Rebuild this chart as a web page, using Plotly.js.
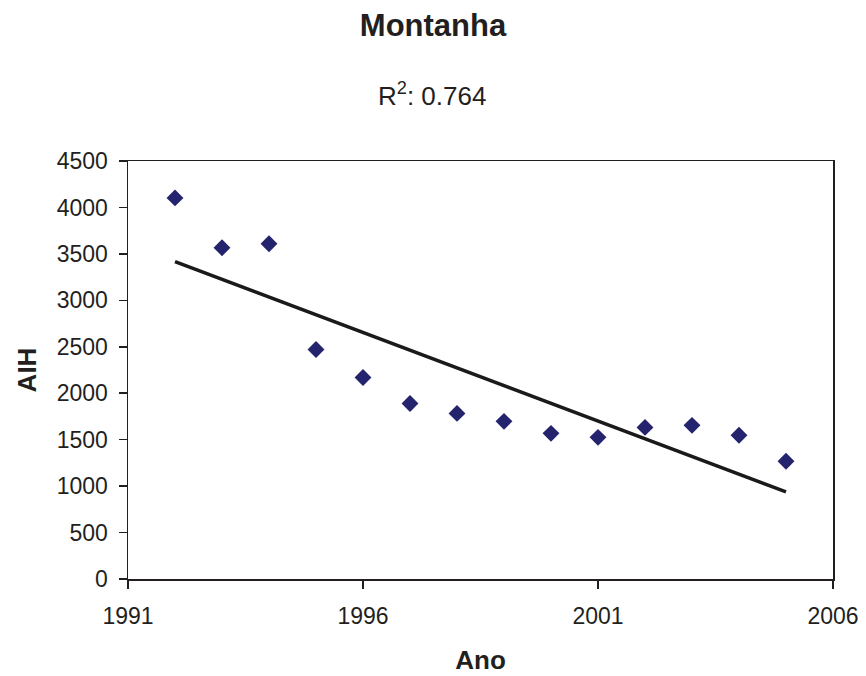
<!DOCTYPE html>
<html>
<head>
<meta charset="utf-8">
<script src="https://cdn.plot.ly/plotly-3.0.1.min.js"></script>
<style>html,body{margin:0;padding:0;background:#fff;}#chart{width:866px;height:676px;}</style>
</head>
<body>
<div id="chart"></div>
<script>
const years = [1992, 1993, 1994, 1995, 1996, 1997, 1998, 1999, 2000, 2001, 2002, 2003, 2004, 2005];
const aih = [4103, 3566, 3609, 2470, 2169, 1890, 1783, 1697, 1568, 1525, 1632, 1654, 1547, 1267];
const titleText = "Montanha";
const r2Text = "R<sup>2</sup>: 0.764";
const xTicks = [1991, 1996, 2001, 2006];
const yTicks = [0, 500, 1000, 1500, 2000, 2500, 3000, 3500, 4000, 4500];

// least-squares linear trend
const n = years.length;
const mx = years.reduce((a, b) => a + b, 0) / n;
const my = aih.reduce((a, b) => a + b, 0) / n;
let sxy = 0, sxx = 0;
for (let i = 0; i < n; i++) { sxy += (years[i] - mx) * (aih[i] - my); sxx += (years[i] - mx) ** 2; }
const slope = sxy / sxx;
const trendX = [years[0], years[n - 1]];
const trendY = trendX.map(x => my + slope * (x - mx));

const txt = '#231f20';
const font = 'Liberation Sans, Arial, sans-serif';

const data = [
  { x: trendX, y: trendY, mode: 'lines', type: 'scatter', line: { color: '#1a1a1a', width: 3.5 }, hoverinfo: 'skip' },
  { x: years, y: aih, mode: 'markers', type: 'scatter', marker: { symbol: 'diamond', size: 13, color: '#23236e' } }
];

const layout = {
  width: 866, height: 676,
  margin: { l: 128, r: 33, t: 161, b: 97 },
  paper_bgcolor: '#fff', plot_bgcolor: '#fff',
  showlegend: false,
  font: { family: font, color: txt, size: 23 },
  title: { text: '<b>' + titleText + '</b>', x: 0.5, xref: 'container', y: 1 - 25 / 676, yref: 'container', yanchor: 'middle', font: { size: 31, color: txt, family: font } },
  annotations: [{ text: r2Text, xref: 'paper', yref: 'paper', x: (432 - 128) / 705, y: 1, yshift: 67, xanchor: 'center', yanchor: 'middle', showarrow: false, font: { size: 26, color: txt, family: font } }],
  xaxis: {
    range: [1991, 2006], tickvals: xTicks, ticktext: xTicks.map(String),
    showline: true, linecolor: '#231f20', linewidth: 1.5, mirror: true,
    ticks: 'outside', ticklen: 8, tickcolor: '#231f20', tickwidth: 1.5,
    showgrid: false, zeroline: false, ticklabelstandoff: 8,
    tickfont: { size: 23 },
    title: { text: '<b>Ano</b>', font: { size: 26, color: txt }, standoff: 22 }
  },
  yaxis: {
    range: [0, 4500], tickvals: yTicks, ticktext: yTicks.map(String),
    showline: true, linecolor: '#231f20', linewidth: 1.5, mirror: true,
    ticks: 'outside', ticklen: 8, tickcolor: '#231f20', tickwidth: 1.5,
    showgrid: false, zeroline: false, ticklabelstandoff: 6,
    tickfont: { size: 23 },
    title: { text: '<b>AIH</b>', font: { size: 26, color: txt }, standoff: 12 }
  }
};

Plotly.newPlot('chart', data, layout, { displayModeBar: false, staticPlot: true });
</script>
</body>
</html>
